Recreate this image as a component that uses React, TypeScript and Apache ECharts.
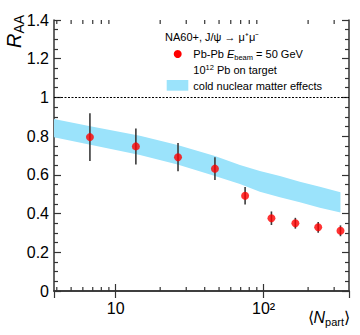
import React, { useEffect, useRef } from "react";
import * as echarts from "echarts";

// ---- data ----
const pointsN = [6.7, 13.7, 26.4, 46.9, 75, 113, 164, 234, 331];
const pointsR = [0.795, 0.747, 0.691, 0.632, 0.492, 0.376, 0.35, 0.329, 0.311];
const pointsErr = [0.123, 0.093, 0.073, 0.059, 0.045, 0.035, 0.028, 0.028, 0.028];

const bandN = [3.83, 6.74, 14.6, 26.2, 46.9, 69.2, 94.4, 128.9, 175.9, 240, 331];
const bandHigh = [0.888, 0.851, 0.802, 0.754, 0.697, 0.651, 0.62, 0.594, 0.565, 0.539, 0.51];
const bandLow = [0.794, 0.756, 0.702, 0.654, 0.594, 0.553, 0.513, 0.484, 0.458, 0.43, 0.406];

const xMin = 3.83;
const xMax = 378;
const yMin = 0;
const yMax = 1.4;
const yInterval = 0.2;
const yTickLabels = ["0", "0.2", "0.4", "0.6", "0.8", "1", "1.2", "1.4"];
const xMajorValues = [10, 100];
const xMajorLabels = ["10", "10²"];
const xMinorTicks = [4, 5, 6, 7, 8, 9, 20, 30, 40, 50, 60, 70, 80, 90, 200, 300];
const refLine = 1;

const FONT = "'Liberation Sans', Arial, sans-serif";
const AXIS_COLOR = "#333";
const BAND_COLOR = "#9be3fb";

export default function App() {
  const ref = useRef<HTMLDivElement>(null);
  useEffect(() => {
    if (!ref.current) return;
    const chart = echarts.init(ref.current, undefined, { renderer: "svg" });

    const xLabelFmt = (v: number) => {
      for (let i = 0; i < xMajorValues.length; i++) {
        if (Math.abs(v - xMajorValues[i]) / xMajorValues[i] < 1e-6) return xMajorLabels[i];
      }
      return "";
    };
    const yLabelFmt = (v: number) => {
      const idx = Math.round((v - yMin) / yInterval);
      return yTickLabels[idx] ?? "";
    };

    const commonX = {
      type: "log",
      logBase: 10,
      min: xMin,
      max: xMax,
      splitLine: { show: false },
      axisLine: { show: true, lineStyle: { color: AXIS_COLOR, width: 1.5 } },
      axisTick: { show: true, inside: true, length: 7, lineStyle: { color: AXIS_COLOR, width: 1.2 } },
    };
    const commonY = {
      type: "value",
      min: yMin,
      max: yMax,
      interval: yInterval,
      splitLine: { show: false },
      minorSplitLine: { show: false },
      axisLine: { show: true, lineStyle: { color: AXIS_COLOR, width: 1.5 } },
      axisTick: { show: true, inside: true, length: 7, lineStyle: { color: AXIS_COLOR, width: 1.2 } },
      minorTick: { show: true, splitNumber: 4, length: 4, lineStyle: { color: AXIS_COLOR, width: 1.2 } },
    };

    const option: any = {
      animation: false,
      grid: { left: 54, top: 20, right: 11, bottom: 44 },
      xAxis: [
        {
          ...commonX,
          position: "bottom",
          axisLabel: {
            formatter: xLabelFmt,
            fontSize: 16,
            color: "#000",
            fontFamily: FONT,
            margin: 9,
            showMinLabel: false,
            showMaxLabel: false,
          },
        },
        { ...commonX, position: "top", axisLabel: { show: false } },
      ],
      yAxis: [
        {
          ...commonY,
          position: "left",
          axisLabel: { formatter: yLabelFmt, fontSize: 16, color: "#000", fontFamily: FONT, margin: 5 },
        },
        { ...commonY, position: "right", axisLabel: { show: false } },
      ],
      series: [
        {
          name: "cold nuclear matter effects",
          type: "custom",
          silent: true,
          data: bandN.map((n, i) => [n, bandLow[i], bandHigh[i]]),
          encode: { x: 0, y: [1, 2] },
          renderItem: (params: any, api: any) => {
            if (params.dataIndex !== 0) return null;
            const upper = bandN.map((n, i) => api.coord([n, bandHigh[i]]));
            const lower = bandN.map((n, i) => api.coord([n, bandLow[i]])).reverse();
            return {
              type: "polygon",
              shape: { points: upper.concat(lower) },
              style: { fill: BAND_COLOR, stroke: "none" },
            };
          },
          z: 1,
        },
        {
          name: "minorTicks",
          type: "custom",
          silent: true,
          data: xMinorTicks.map((v) => [v, yMin]),
          renderItem: (params: any, api: any) => {
            const v = api.value(0);
            const b = api.coord([v, yMin]);
            const t = api.coord([v, yMax]);
            const st = { stroke: AXIS_COLOR, lineWidth: 1.2 };
            return {
              type: "group",
              children: [
                { type: "line", shape: { x1: b[0], y1: b[1], x2: b[0], y2: b[1] - 4 }, style: st },
                { type: "line", shape: { x1: t[0], y1: t[1], x2: t[0], y2: t[1] + 4 }, style: st },
              ],
            };
          },
          z: 5,
        },
        {
          name: "errors",
          type: "custom",
          silent: true,
          data: pointsN.map((n, i) => [n, pointsR[i] - pointsErr[i], pointsR[i] + pointsErr[i]]),
          encode: { x: 0, y: [1, 2] },
          renderItem: (params: any, api: any) => {
            const lo = api.coord([api.value(0), api.value(1)]);
            const hi = api.coord([api.value(0), api.value(2)]);
            return {
              type: "line",
              shape: { x1: lo[0], y1: lo[1], x2: hi[0], y2: hi[1] },
              style: { stroke: "#3a3a3a", lineWidth: 1.6 },
            };
          },
          z: 3,
        },
        {
          name: "Pb-Pb",
          type: "scatter",
          data: pointsN.map((n, i) => [n, pointsR[i]]),
          symbol: "circle",
          symbolSize: 8,
          itemStyle: { color: "#ff0000" },
          z: 4,
          markLine: {
            silent: true,
            symbol: ["none", "none"],
            label: { show: false },
            lineStyle: { color: "#000", type: [2, 1.5], width: 1 },
            data: [{ yAxis: refLine }],
          },
        },
      ],
      graphic: [
        {
          type: "text",
          x: 14,
          y: 48,
          rotation: Math.PI / 2,
          style: {
            text: "{r|R}{s|AA}",
            align: "left",
            verticalAlign: "middle",
            fill: "#000",
            rich: {
              r: { fontSize: 20, fontStyle: "italic", fontFamily: FONT },
              s: { fontSize: 14, fontFamily: FONT, padding: [10, 0, 0, 0] },
            },
          },
        },
        {
          type: "text",
          x: 350,
          y: 317,
          style: {
            text: "{n|⟨}{i|N}{s|part}{n|⟩}",
            align: "right",
            verticalAlign: "middle",
            fill: "#000",
            rich: {
              n: { fontSize: 16, fontFamily: FONT },
              i: { fontSize: 16, fontStyle: "italic", fontFamily: FONT },
              s: { fontSize: 11, fontFamily: FONT, padding: [9, 0, 0, 0] },
            },
          },
        },
        {
          type: "text",
          x: 165,
          y: 37,
          style: {
            text: "NA60+, J/ψ → μ⁺μ⁻",
            fontSize: 11,
            fontFamily: FONT,
            fill: "#000",
            align: "left",
            verticalAlign: "middle",
          },
        },
        { type: "circle", shape: { cx: 177.7, cy: 54, r: 4 }, style: { fill: "#ff0000" } },
        {
          type: "text",
          x: 193.3,
          y: 54,
          style: {
            text: "{n|Pb-Pb }{i|E}{s|beam}{n| = 50 GeV}",
            align: "left",
            verticalAlign: "middle",
            fill: "#000",
            rich: {
              n: { fontSize: 11, fontFamily: FONT },
              i: { fontSize: 11, fontStyle: "italic", fontFamily: FONT },
              s: { fontSize: 7.5, fontFamily: FONT, padding: [6, 0, 0, 0] },
            },
          },
        },
        {
          type: "text",
          x: 193.3,
          y: 70,
          style: {
            text: "{n|10}{p|12}{n| Pb on target}",
            align: "left",
            verticalAlign: "middle",
            fill: "#000",
            rich: {
              n: { fontSize: 11, fontFamily: FONT },
              p: { fontSize: 7.5, fontFamily: FONT, padding: [0, 0, 6, 0] },
            },
          },
        },
        { type: "rect", shape: { x: 166.7, y: 80, width: 21.6, height: 10.7 }, style: { fill: BAND_COLOR } },
        {
          type: "text",
          x: 193.3,
          y: 85.5,
          style: {
            text: "cold nuclear matter effects",
            fontSize: 11,
            fontFamily: FONT,
            fill: "#000",
            align: "left",
            verticalAlign: "middle",
          },
        },
      ],
    };

    chart.setOption(option);
    return () => chart.dispose();
  }, []);

  return (
    <div
      ref={ref}
      style={{ position: "absolute", left: 0, top: 0, width: 360, height: 335, background: "#fff" }}
    />
  );
}
